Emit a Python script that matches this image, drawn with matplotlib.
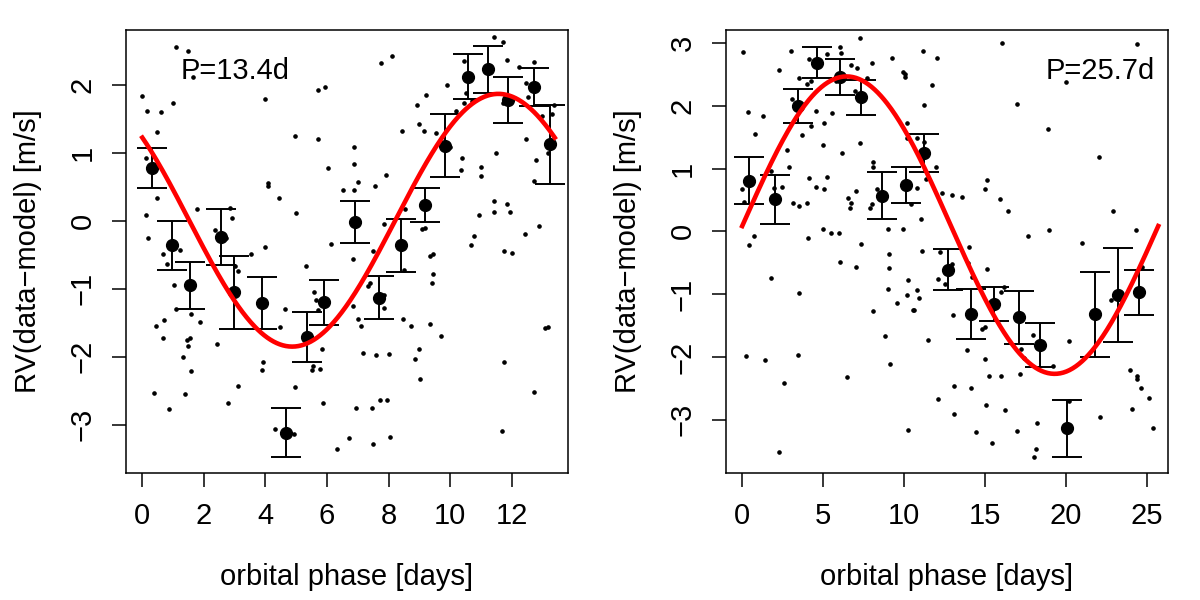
import numpy as np
import matplotlib.pyplot as plt

plt.rcParams['font.family'] = ['Liberation Sans', 'DejaVu Sans']

# ---- left panel: P = 13.4 d ----
left_period = 13.4
left_amp, left_tpeak, left_offset = 1.86, 11.57, 0.01

left_dot_x = [1.08, 1.50, 1.66, 0.00, 0.14, 0.60, 0.99, 0.47, 3.99, 5.70, 5.94, 4.95, 5.70, 6.03,
              6.52, 0.12, 0.49, 0.12, 0.19, 1.79, 2.36, 2.86, 2.90, 2.71, 1.22, 0.68, 4.09, 4.07,
              4.43, 4.99, 4.00, 3.54, 6.12, 11.43, 11.72, 7.75, 8.10, 11.85, 12.23, 12.73, 10.45,
              9.91, 9.21, 8.93, 8.99, 9.14, 9.53, 8.43, 10.18, 10.52, 10.45, 10.72, 12.47, 12.52,
              11.73, 12.98, 13.30, 13.37, 12.46, 12.79, 13.17, 12.73, 11.50, 10.01, 10.38, 10.36,
              11.00, 11.01, 6.89, 6.87, 7.00, 6.89, 7.55, 7.93, 8.54, 7.85, 9.10, 9.18, 11.42,
              11.85, 10.94, 11.42, 11.94, 10.79, 10.69, 12.44, 12.88, 7.49, 9.44, 11.75, 12.00,
              0.80, 3.02, 3.10, 5.32, 1.02, 1.09, 1.58, 1.87, 0.69, 0.45, 0.67, 1.46, 1.54, 1.48,
              1.32, 1.58, 2.42, 0.38, 0.87, 1.38, 3.10, 2.79, 3.93, 3.90, 4.47, 4.64, 5.59, 5.65,
              5.70, 5.83, 5.56, 5.52, 5.76, 4.97, 5.87, 4.31, 4.94, 6.34, 6.72, 6.85, 9.34, 9.45,
              9.42, 8.50, 7.40, 7.34, 7.85, 7.86, 6.84, 7.01, 7.11, 8.47, 8.73, 9.36, 9.70, 13.08,
              13.19, 7.16, 7.60, 8.01, 8.98, 8.86, 9.01, 11.74, 12.73, 7.73, 7.94, 6.94, 7.47,
              7.50, 8.06, 11.69]
left_dot_y = [2.56, 2.50, 2.12, 1.84, 1.62, 1.61, 1.74, 1.31, 1.80, 1.92, 1.97, 1.25, 1.21, 0.78,
              0.46, 0.92, 0.34, 0.08, -0.25, 0.18, -0.13, 0.19, 0.05, -0.25, -0.43, -0.49, 0.56,
              0.52, 0.34, 0.12, -0.38, -0.49, -0.34, 2.71, 2.64, 2.32, 2.43, 2.37, 2.27, 2.34,
              2.35, 2.00, 1.86, 1.70, 1.43, 1.33, 1.30, 1.33, 1.62, 1.88, 1.73, 1.76, 2.03, 1.83,
              1.73, 1.54, 1.57, 1.70, 1.21, 0.90, 1.00, 0.59, 1.00, 1.09, 0.92, 0.75, 0.80, 0.66,
              1.09, 0.84, 0.58, 0.46, 0.51, 0.68, 0.17, -0.04, -0.12, -0.11, 0.29, 0.25, 0.09,
              0.13, 0.13, -0.22, -0.35, -0.19, -0.08, -0.44, -0.48, -0.44, -0.47, -0.63, -0.66,
              -0.73, -0.67, -0.95, -1.30, -1.37, -1.49, -1.46, -1.55, -1.72, -1.75, -1.72, -1.84,
              -2.00, -2.21, -1.81, -2.53, -2.77, -2.55, -2.43, -2.68, -2.07, -2.20, -1.56, -1.29,
              -1.05, -1.16, -1.31, -1.88, -2.14, -2.19, -2.18, -2.45, -2.68, -3.06, -3.13, -3.36,
              -3.19, -0.56, -0.52, -0.78, -0.91, -0.72, -0.92, -0.96, -1.09, -1.28, -1.25, -1.45,
              -1.54, -1.45, -1.54, -1.51, -1.69, -1.58, -1.56, -1.94, -1.97, -1.96, -1.89, -2.03,
              -2.32, -2.07, -2.52, -2.63, -2.63, -2.76, -2.75, -3.29, -3.18, -3.09]

left_bin_x = [0.32, 0.97, 1.55, 2.55, 2.98, 3.90, 4.67, 5.35, 5.89, 6.91, 7.70, 8.40, 9.18,
              9.83, 10.57, 11.22, 11.89, 12.72, 13.25]
left_bin_y = [0.78, -0.36, -0.95, -0.24, -1.05, -1.21, -3.12, -1.71, -1.20, -0.02, -1.13, -0.36,
              0.23, 1.11, 2.12, 2.23, 1.78, 1.97, 1.13]
left_bin_err = [0.30, 0.36, 0.35, 0.41, 0.54, 0.38, 0.36, 0.37, 0.33, 0.31, 0.32, 0.39, 0.25,
                0.47, 0.33, 0.35, 0.34, 0.28, 0.58]

# ---- right panel: P = 25.7 d ----
right_period = 25.7
right_amp, right_tpeak, right_offset = 2.37, 6.45, 0.10

right_dot_x = [0.02, 3.02, 2.28, 7.28, 6.03, 6.09, 5.21, 4.12, 3.48, 4.01, 4.24, 6.75, 7.10, 7.99,
               9.26, 11.17, 12.06, 9.96, 10.04, 10.06, 11.75, 11.20, 10.19, 5.77, 6.94, 7.72, 0.33,
               1.28, 0.77, 3.67, 3.09, 4.53, 4.28, 5.04, 5.52, 5.00, 6.14, 7.28, 2.76, 2.88, 1.77,
               1.98, 2.45, 0.00, 0.10, 3.15, 3.50, 3.99, 4.14, 4.55, 5.04, 5.23, 7.04, 6.51, 6.73,
               6.65, 8.05, 8.05, 8.30, 7.99, 7.88, 10.15, 10.80, 11.23, 11.96, 11.34, 10.77, 10.41,
               12.37, 12.94, 11.05, 8.98, 9.94, 4.98, 5.48, 6.01, 4.04, 0.72, 0.43, 7.35, 9.04,
               11.09, 12.20, 6.05, 7.00, 9.04, 1.75, 3.54, 10.27, 9.01, 10.78, 10.15, 10.95, 9.55,
               8.05, 10.64, 10.56, 12.12, 12.51, 13.03, 8.85, 11.46, 9.12, 0.21, 1.40, 3.42, 2.57,
               6.48, 13.07, 12.10, 13.09, 10.27, 2.28, 16.05, 24.41, 20.02, 16.96, 18.91, 22.02,
               15.10, 14.98, 13.60, 15.95, 16.44, 22.90, 18.95, 24.30, 17.64, 20.97, 14.01, 13.97,
               12.99, 14.20, 15.12, 16.15, 15.97, 14.98, 14.81, 13.89, 15.00, 17.20, 17.43, 17.99,
               19.22, 20.21, 15.23, 16.01, 17.19, 14.12, 15.09, 16.22, 14.43, 16.96, 15.41, 18.19,
               18.13, 18.01, 20.21, 22.08, 23.93, 24.38, 24.41, 24.65, 25.12, 24.10, 25.37, 22.80,
               24.72]
right_dot_y = [2.86, 2.88, 2.58, 3.09, 2.94, 2.85, 2.82, 2.74, 2.44, 2.35, 2.40, 2.66, 2.60, 2.69,
               2.76, 2.88, 2.77, 2.54, 2.51, 2.46, 2.34, 2.01, 1.73, 2.39, 2.24, 2.44, 1.91, 1.84,
               1.56, 1.54, 2.11, 1.92, 1.68, 1.72, 1.89, 1.37, 1.25, 1.41, 1.30, 1.02, 0.96, 0.69,
               0.71, 0.68, 0.47, 0.45, 0.41, 0.45, 0.85, 0.71, 0.67, 0.87, 0.64, 0.53, 0.46, 0.37,
               1.11, 1.03, 0.68, 0.44, 0.38, 1.49, 1.49, 1.43, 1.03, 0.84, 0.69, 0.44, 0.61, 0.58,
               0.20, 0.04, 0.04, 0.04, -0.03, -0.03, -0.11, -0.08, -0.22, -0.20, -0.36, -0.31,
               -0.33, -0.49, -0.57, -0.58, -0.75, -0.98, -0.78, -0.92, -0.93, -1.02, -1.06, -1.14,
               -1.27, -1.25, -1.26, -0.76, -0.84, -1.34, -1.67, -1.73, -2.11, -1.98, -2.05, -1.97,
               -2.41, -2.32, -2.46, -2.67, -2.91, -3.16, -3.51, 3.01, 2.98, 2.38, 2.03, 1.64, 1.18,
               0.82, 0.68, 0.55, 0.52, 0.33, 0.32, 0.03, 0.03, -0.08, -0.18, -0.25, -0.50, -0.52,
               -0.72, -0.60, -0.89, -0.97, -1.52, -1.56, -1.89, -2.03, -1.88, -2.02, -1.65, -2.14,
               -1.75, -2.30, -2.31, -2.28, -2.50, -2.76, -2.84, -3.20, -3.18, -3.38, -3.06, -3.46,
               -3.59, -2.71, -2.95, -2.21, -2.30, -2.35, -2.50, -2.65, -2.83, -3.14, -1.09, -0.56]

right_bin_x = [0.41, 2.02, 3.46, 4.65, 6.05, 7.33, 8.62, 10.10, 11.20, 12.70, 14.12, 15.58,
               17.08, 18.42, 20.06, 21.79, 23.21, 24.51]
right_bin_y = [0.81, 0.51, 2.00, 2.69, 2.46, 2.14, 0.57, 0.74, 1.25, -0.61, -1.32, -1.16,
               -1.37, -1.81, -3.14, -1.32, -1.02, -0.97]
right_bin_err = [0.38, 0.39, 0.27, 0.25, 0.28, 0.28, 0.37, 0.29, 0.30, 0.33, 0.40, 0.27,
                 0.42, 0.35, 0.46, 0.68, 0.75, 0.36]


def draw_panel(ax, dot_x, dot_y, bin_x, bin_y, bin_err, period, amp, tpeak, offset):
    ax.plot(dot_x, dot_y, 'o', color='black', ms=2.3, zorder=2)
    ax.errorbar(bin_x, bin_y, yerr=bin_err, fmt='o', color='black', ms=8.5,
                capsize=11, elinewidth=1.4, capthick=1.4, zorder=3)
    phase = np.linspace(0, period, 400)
    model = offset + amp * np.cos(2 * np.pi * (phase - tpeak) / period)
    ax.plot(phase, model, color='red', lw=3.3, zorder=4)
    ax.set_xlabel('orbital phase [days]', fontsize=21, labelpad=24)
    ax.set_ylabel('RV(data\u2212model) [m/s]', fontsize=21, labelpad=19)
    ax.tick_params(direction='out', length=10, width=1.1, labelsize=21, pad=11)
    ax.tick_params(axis='y', labelrotation=90)
    for lab in ax.get_yticklabels():
        lab.set_verticalalignment('center')
    for sp in ax.spines.values():
        sp.set_linewidth(1.1)


fig = plt.figure(figsize=(12, 6), dpi=100)
ax1 = fig.add_axes([0.105, 0.2117, 0.3683, 0.7383])
ax2 = fig.add_axes([0.605, 0.2117, 0.3683, 0.7383])

draw_panel(ax1, left_dot_x, left_dot_y, left_bin_x, left_bin_y, left_bin_err,
           left_period, left_amp, left_tpeak, left_offset)
ax1.set_xlim(-0.53, 13.83)
ax1.set_ylim(-3.71, 2.81)
ax1.set_xticks([0, 2, 4, 6, 8, 10, 12])
ax1.set_yticks([-3, -2, -1, 0, 1, 2])
ax1.text(0.124, 0.907, 'P=13.4d', transform=ax1.transAxes, fontsize=21,
         ha='left', va='center')

draw_panel(ax2, right_dot_x, right_dot_y, right_bin_x, right_bin_y, right_bin_err,
           right_period, right_amp, right_tpeak, right_offset)
ax2.set_xlim(-1.0, 26.3)
ax2.set_ylim(-3.85, 3.21)
ax2.set_xticks([0, 5, 10, 15, 20, 25])
ax2.set_yticks([-3, -2, -1, 0, 1, 2, 3])
ax2.text(0.97, 0.907, 'P=25.7d', transform=ax2.transAxes, fontsize=21,
         ha='right', va='center')

fig.savefig('out.png', dpi=100)
